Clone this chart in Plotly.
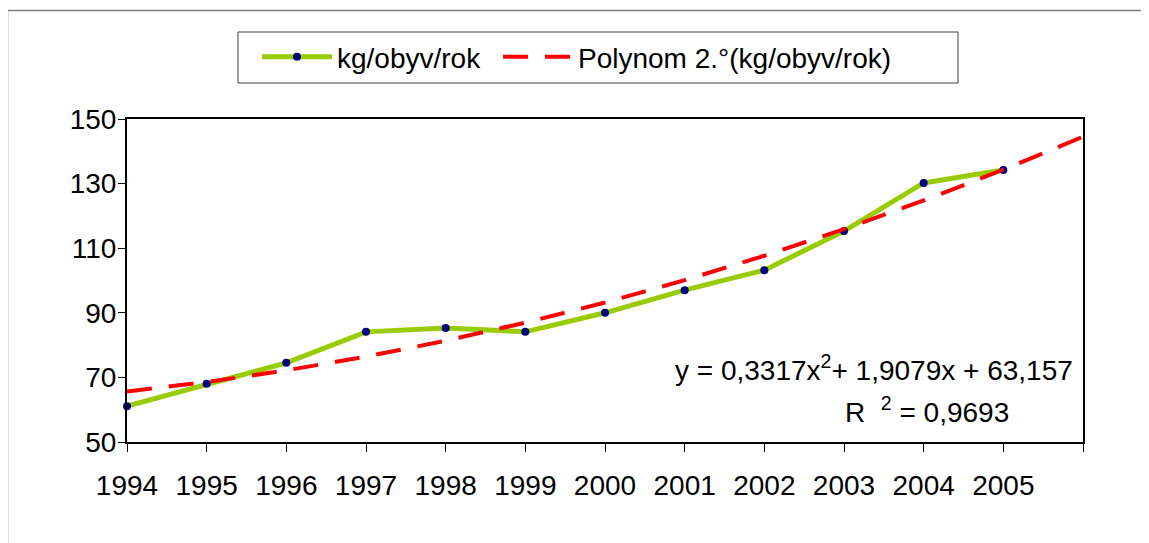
import numpy as np
import plotly.graph_objects as go

years = [1994, 1995, 1996, 1997, 1998, 1999, 2000, 2001, 2002, 2003, 2004, 2005]
kg_per_capita = [61.1, 68.0, 74.5, 84.1, 85.3, 84.1, 90.0, 97.0, 103.2, 115.3, 130.2, 134.2]
trend_years = [1994, 1995, 1996, 1997, 1998, 1999, 2000, 2001, 2002, 2003, 2004, 2005, 2006]
tick_years = [1994, 1995, 1996, 1997, 1998, 1999, 2000, 2001, 2002, 2003, 2004, 2005]
tick_labels = ["1994", "1995", "1996", "1997", "1998", "1999", "2000", "2001", "2002",
               "2003", "2004", "2005"]
end_tick = [2006]
series_name = "kg/obyv/rok"
trend_name = "Polynom 2.°(kg/obyv/rok)"
eq_text = "y = 0,3317x<sup>2</sup>+ 1,9079x + 63,157"
r2_text = "R&nbsp; <sup>2</sup> = 0,9693"

# second-order polynomial trend fitted to the series (x = 1..n, as in the spreadsheet)
idx = np.arange(1, len(years) + 1)
coef = np.polyfit(idx, kg_per_capita, 2)
trend_idx = np.array(trend_years) - years[0] + 1
trend_vals = np.polyval(coef, trend_idx)

FONT = "Arial, Liberation Sans, sans-serif"
FS = 28

fig = go.Figure()
fig.add_trace(go.Scatter(
    x=years, y=kg_per_capita, name=series_name, mode="lines+markers",
    line=dict(color="#99CC00", width=5),
    marker=dict(color="#000080", size=8),
    cliponaxis=False, legend="legend",
))
fig.add_trace(go.Scatter(
    x=trend_years, y=trend_vals, name=trend_name, mode="lines",
    line=dict(color="#FF0000", width=4, dash="25px,17px"),
    legend="legend2",
))

# page offset of the figure div (browser body margin)
OFF = 8
# plot area in page pixels (reference), converted to figure pixels
L, R, T, B = 127 - OFF, 1083 - OFF, 119 - OFF, 442 - OFF
W, H = 1149, 543

def px2paper_x(px):
    return (px - OFF - L) / (R - L)

def px2paper_y(py):
    return (B - (py - OFF)) / (B - T)

legend_common = dict(
    orientation="h", xanchor="left", yanchor="top",
    y=px2paper_y(32), borderwidth=0, bgcolor="rgba(0,0,0,0)",
    font=dict(family=FONT, size=FS, color="black"),
    itemwidth=70,
)

fig.update_layout(
    width=W, height=H,
    margin=dict(l=L, r=W - R, t=T, b=H - B, pad=0),
    paper_bgcolor="white", plot_bgcolor="white",
    font=dict(family=FONT, size=FS, color="black"),
    showlegend=True,
    legend=dict(x=px2paper_x(257), **legend_common),
    legend2=dict(x=px2paper_x(498), **legend_common),
    xaxis=dict(
        range=[1994, 2006],
        tickmode="array", tickvals=tick_years, ticktext=tick_labels,
        ticks="outside", ticklen=8, tickwidth=1, tickcolor="black",
        minor=dict(tickmode="array", tickvals=end_tick, ticks="outside", ticklen=8,
                   tickwidth=1, tickcolor="black", showgrid=False),
        showline=True, linecolor="black", linewidth=2, mirror=True,
        showgrid=False, zeroline=False,
        ticklabelstandoff=9,
        tickfont=dict(family=FONT, size=FS),
    ),
    yaxis=dict(
        range=[50, 150], tickmode="linear", tick0=50, dtick=20,
        ticks="outside", ticklen=7, tickwidth=1, tickcolor="black",
        showline=True, linecolor="black", linewidth=2, mirror=True,
        showgrid=False, zeroline=False,
        ticklabelstandoff=-4,
        tickfont=dict(family=FONT, size=FS),
    ),
    annotations=[
        dict(x=2005.9, y=72.9, xref="x", yref="y", text=eq_text, showarrow=False,
             xanchor="right", yanchor="middle", font=dict(family=FONT, size=FS)),
        dict(x=2005.09, y=59.9, xref="x", yref="y", text=r2_text, showarrow=False,
             xanchor="right", yanchor="middle", font=dict(family=FONT, size=FS)),
    ],
    shapes=[
        # outer chart frame
        dict(type="line", xref="paper", yref="paper",
             x0=px2paper_x(7.5), x1=px2paper_x(7.5), y0=px2paper_y(10.5), y1=px2paper_y(620),
             line=dict(color="#7f7f7f", width=1.5)),
        dict(type="line", xref="paper", yref="paper",
             x0=px2paper_x(7.5), x1=px2paper_x(1220), y0=px2paper_y(10.5), y1=px2paper_y(10.5),
             line=dict(color="#7f7f7f", width=1.5)),
        # legend box
        dict(type="rect", xref="paper", yref="paper",
             x0=px2paper_x(238), x1=px2paper_x(958), y0=px2paper_y(83), y1=px2paper_y(32),
             line=dict(color="#404040", width=1), fillcolor="rgba(0,0,0,0)", layer="below"),
    ],
)

fig.write_html("out.html")
